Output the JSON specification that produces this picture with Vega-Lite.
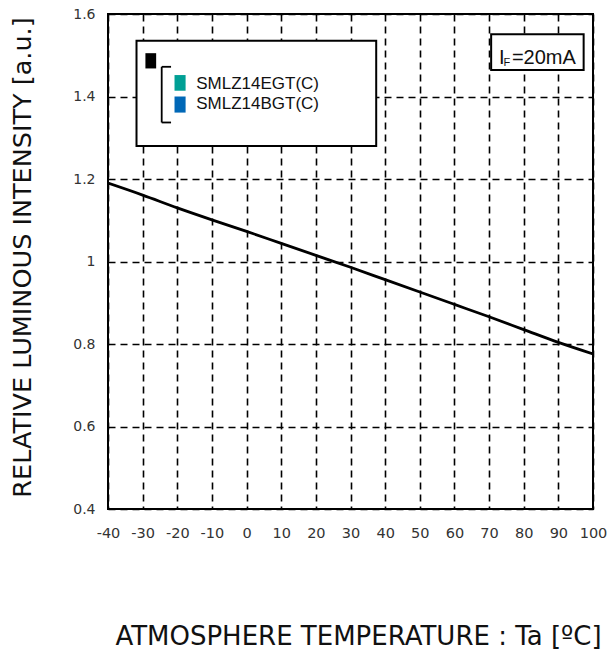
{
  "$schema": "https://vega.github.io/schema/vega-lite/v6.json",
  "autosize": "none",
  "width": 485,
  "height": 495,
  "padding": {"left": 108, "top": 14, "right": 21, "bottom": 144},
  "background": "white",
  "config": {
    "view": {"stroke": "black", "strokeWidth": 2},
    "axis": {
      "labelFont": "DejaVu Sans",
      "labelFontSize": 14,
      "labelColor": "#333",
      "titleFont": "DejaVu Sans",
      "titleFontWeight": "normal",
      "titleColor": "#111",
      "domain": false,
      "ticks": false,
      "grid": true,
      "gridColor": "black",
      "gridOpacity": 1,
      "gridWidth": 1.6,
      "gridDash": [7, 5]
    }
  },
  "datasets": {
    "curve": [
      {"T": -40, "RI": 1.19},
      {"T": -30, "RI": 1.161},
      {"T": -20, "RI": 1.13},
      {"T": -10, "RI": 1.101},
      {"T": 0, "RI": 1.073},
      {"T": 10, "RI": 1.044},
      {"T": 20, "RI": 1.015},
      {"T": 30, "RI": 0.986},
      {"T": 40, "RI": 0.956},
      {"T": 50, "RI": 0.926},
      {"T": 60, "RI": 0.896},
      {"T": 70, "RI": 0.866},
      {"T": 80, "RI": 0.835},
      {"T": 90, "RI": 0.804},
      {"T": 100, "RI": 0.776}
    ],
    "boxes": [
      {"box": "legend", "T": -31.77, "T2": 37.42, "RI": 1.535, "RI2": 1.28},
      {"box": "condition", "T": 70.6, "T2": 97.3, "RI": 1.551, "RI2": 1.464}
    ],
    "swatches": [
      {"key": "marker", "T": -29.2, "T2": -26.1, "RI": 1.505, "RI2": 1.468},
      {"key": "SMLZ14EGT(C)", "T": -20.8, "T2": -17.6, "RI": 1.452, "RI2": 1.414},
      {"key": "SMLZ14BGT(C)", "T": -20.8, "T2": -17.6, "RI": 1.4, "RI2": 1.361}
    ],
    "bracket": [
      {"T": -24.5, "T2": -24.5, "RI": 1.472, "RI2": 1.337},
      {"T": -24.5, "T2": -21.8, "RI": 1.472, "RI2": 1.472},
      {"T": -24.5, "T2": -21.8, "RI": 1.337, "RI2": 1.337}
    ],
    "legendLabels": [
      {"T": -14.54, "RI": 1.4175, "label": "SMLZ14EGT(C)"},
      {"T": -14.54, "RI": 1.369, "label": "SMLZ14BGT(C)"}
    ],
    "condMain": [
      {"T": 72.9, "RI": 1.48, "label": "I"},
      {"T": 76.6, "RI": 1.48, "label": "=20mA"}
    ],
    "condSub": [
      {"T": 74.2, "RI": 1.473, "label": "F"}
    ]
  },
  "encoding": {
    "x": {
      "field": "T", "type": "quantitative",
      "scale": {"domain": [-40, 100], "nice": false, "zero": false},
      "axis": {
        "values": [-40, -30, -20, -10, 0, 10, 20, 30, 40, 50, 60, 70, 80, 90, 100],
        "labelExpr": "toString(datum.value)",
        "labelOverlap": false,
        "labelBound": false,
        "labelFlush": false,
        "labelFontSize": 14.5,
        "labelPadding": 17,
        "title": "ATMOSPHERE TEMPERATURE : Ta [ºC]",
        "titleFontSize": 26,
        "titleX": 250,
        "titleY": 127,
        "titleBaseline": "middle",
        "titleAlign": "center"
      }
    },
    "y": {
      "field": "RI", "type": "quantitative",
      "scale": {"domain": [0.4, 1.6], "nice": false, "zero": false},
      "axis": {
        "values": [0.4, 0.6, 0.8, 1, 1.2, 1.4, 1.6],
        "labelExpr": "format(datum.value, '.1~f')",
        "labelOverlap": false,
        "labelFlush": false,
        "labelPadding": 13,
        "title": "RELATIVE LUMINOUS INTENSITY [a.u.]",
        "titleFontSize": 25.5,
        "titleX": -86,
        "titleY": 243,
        "titleBaseline": "middle",
        "titleAlign": "center"
      }
    }
  },
  "layer": [
    {
      "data": {"name": "curve"},
      "mark": {"type": "line", "color": "black", "strokeWidth": 2.8, "clip": true, "interpolate": "monotone"}
    },
    {
      "data": {"name": "boxes"},
      "mark": {"type": "rect", "fill": "white", "stroke": "black", "strokeWidth": 2},
      "encoding": {
        "x2": {"field": "T2"},
        "y2": {"field": "RI2"}
      }
    },
    {
      "data": {"name": "swatches"},
      "mark": {"type": "rect"},
      "encoding": {
        "x2": {"field": "T2"},
        "y2": {"field": "RI2"},
        "color": {
          "field": "key", "type": "nominal",
          "scale": {"domain": ["marker", "SMLZ14EGT(C)", "SMLZ14BGT(C)"], "range": ["#000000", "#00A095", "#0068B7"]},
          "legend": null
        }
      }
    },
    {
      "data": {"name": "bracket"},
      "mark": {"type": "rule", "color": "black", "strokeWidth": 1.8},
      "encoding": {
        "x2": {"field": "T2"},
        "y2": {"field": "RI2"}
      }
    },
    {
      "data": {"name": "legendLabels"},
      "mark": {"type": "text", "font": "Liberation Sans", "fontSize": 17, "align": "left", "baseline": "alphabetic", "color": "#111"},
      "encoding": {
        "text": {"field": "label"}
      }
    },
    {
      "data": {"name": "condMain"},
      "mark": {"type": "text", "font": "Liberation Sans", "fontSize": 20, "align": "left", "baseline": "alphabetic", "color": "#111"},
      "encoding": {
        "text": {"field": "label"}
      }
    },
    {
      "data": {"name": "condSub"},
      "mark": {"type": "text", "font": "Liberation Sans", "fontSize": 11, "align": "left", "baseline": "alphabetic", "color": "#111"},
      "encoding": {
        "text": {"field": "label"}
      }
    }
  ]
}
